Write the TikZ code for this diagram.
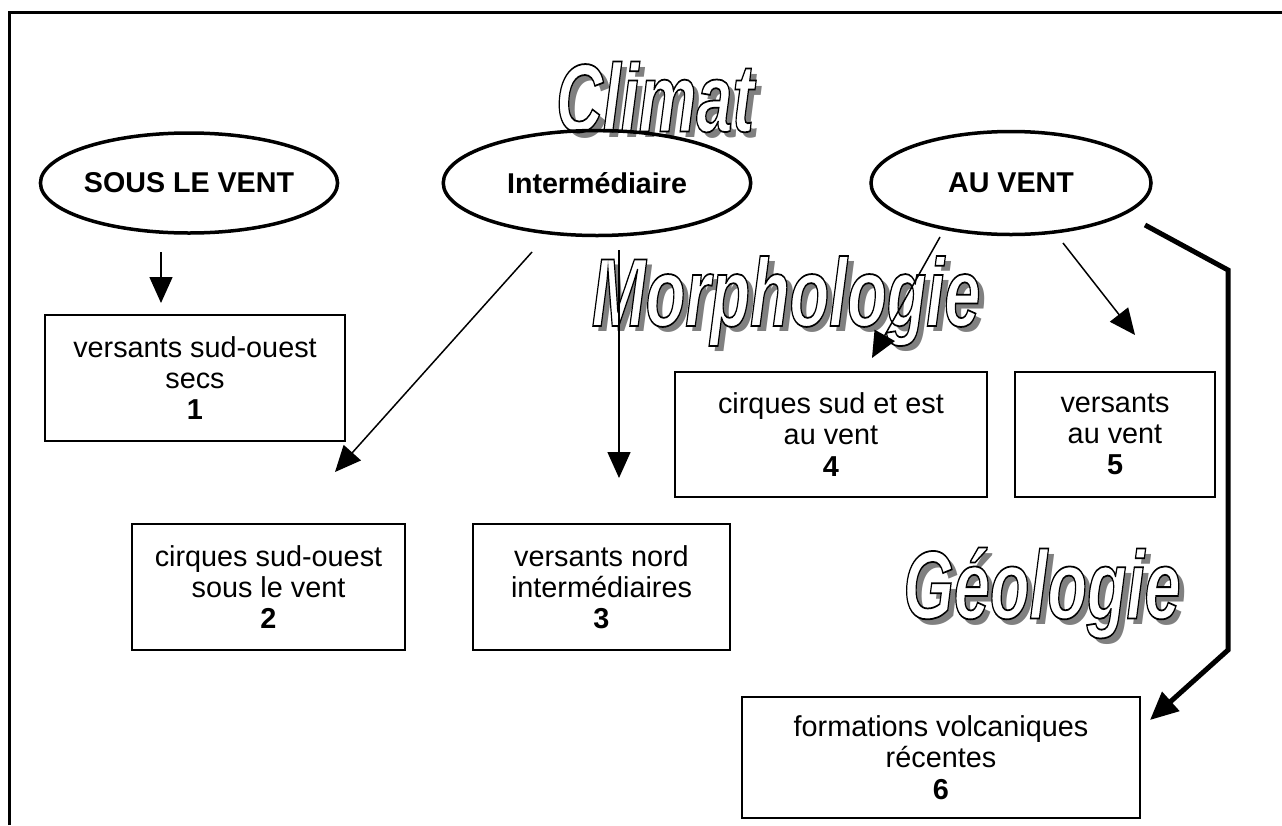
\documentclass[tikz,border=0pt]{standalone}
\usepackage{fontspec}
\setmainfont{Liberation Sans}
\usepackage{graphicx}
\usetikzlibrary{arrows.meta,shapes.geometric}

% outlined letters: white fill, black stroke
\newcommand{\contourtxt}[1]{\special{pdf:literal direct 0 G 1 w 2 Tr}#1\special{pdf:literal direct 0 Tr}}

\begin{document}
\begin{tikzpicture}[x=0.2mm,y=-0.2mm]

\tikzset{climat/.style = {shape=ellipse,draw,line width=0.7mm,inner sep=0pt,font=\fontsize{16.3}{19}\selectfont\bfseries}}
\tikzset{box/.style = {draw,line width=0.25mm,align=center,inner sep=0pt,font=\fontsize{16.4}{17.8}\selectfont}}
\tikzset{edge/.style = {-{Triangle[length=5.2mm,width=4.6mm]},line width=0.3mm}}
\tikzset{bigedge/.style = {-{Triangle[length=5.6mm,width=5mm]},line width=1mm}}
\tikzset{titre/.style = {inner sep=0pt,font=\fontsize{55}{58}\selectfont\bfseries\itshape}}

\useasboundingbox (0,0) rectangle (1282,825);
\draw[line width=0.6mm] (9,825) -- (9,12) -- (1282,12);

% titles with shadow
\foreach \x/\y/\name/\txt in {655/97/climat/Climat, 786/301/morpho/Morphologie, 1042/593/geo/Géologie}{
\node[titre,text=gray] (\name-s) at (\x+6,\y+6) {\scalebox{0.67}[1]{\txt}};
\node[titre,text=white] (\name) at (\x,\y) {\scalebox{0.67}[1]{\contourtxt{\txt}}};
}

% climate zones
\foreach \pos/\name/\w/\h/\txt in {{(189,183)/sous/58.6/20/SOUS LE VENT}, {(597,183)/inter/61.5/21/Intermédiaire}, {(1011,183)/auvent/56/20.6/AU VENT}}
\node[climat,minimum width=\w mm,minimum height=\h mm] (\name) at \pos {\txt};

% units
\foreach \pos/\name/\w/\h/\txt in {{(195,378)/u1/60/25.2/{versants sud-ouest\\secs\\\textbf{1}}},
  {(268.5,587)/u2/54.6/25.2/{cirques sud-ouest\\sous le vent\\\textbf{2}}},
  {(601.5,587)/u3/51.4/25.2/{versants nord\\intermédiaires\\\textbf{3}}},
  {(831,434.5)/u4/62.4/25/{cirques sud et est\\au vent\\\textbf{4}}},
  {(1115,434.5)/u5/40/25/{versants\\au vent\\\textbf{5}}},
  {(941,757.5)/u6/79.6/24.2/{formations volcaniques\\récentes\\\textbf{6}}}}
\node[box,minimum width=\w mm,minimum height=\h mm] (\name) at \pos {\txt};

% arrow ends
\foreach \pos/\name in {{(161,252)/s1}, {(161,303)/e1}, {(532,252)/s2}, {(335,472)/e2},
  {(619,250)/s3}, {(619,478)/e3}, {(940,237)/s4}, {(872,358)/e4},
  {(1063,243)/s5}, {(1135,335)/e5}, {(1145,225)/s6}, {(1228,270)/k1},
  {(1228,650)/k2}, {(1150,720)/e6}}
\path \pos coordinate (\name);

\foreach \from/\to in {s1/e1, s2/e2, s3/e3, s4/e4, s5/e5}
\draw [edge] (\from) to (\to);

\draw[bigedge,line join=miter] (s6) -- (k1) -- (k2) -- (e6);
\end{tikzpicture}
\end{document}
